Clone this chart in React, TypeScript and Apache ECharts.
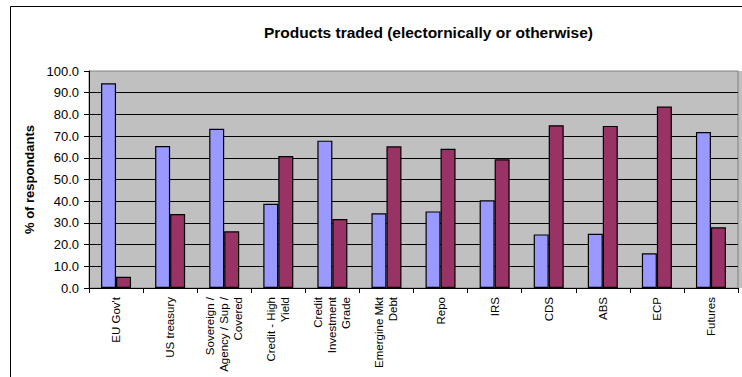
import React, { useEffect, useRef } from "react";
import * as echarts from "echarts";

const categories = [
  "EU Gov't",
  "US treasury",
  "Sovereign /\nAgency / Sup /\nCovered",
  "Credit - High\nYield",
  "Credit\nInvestment\nGrade",
  "Emergine Mkt\nDebt",
  "Repo",
  "IRS",
  "CDS",
  "ABS",
  "ECP",
  "Futures",
];
const seriesBlue = [94.3, 65.4, 73.4, 38.8, 67.9, 34.4, 35.3, 40.4, 24.7, 25.0, 16.0, 71.9];
const seriesMaroon = [5.2, 34.1, 26.1, 60.8, 31.8, 65.3, 64.2, 59.3, 75.0, 74.7, 83.6, 28.0];

export default function App() {
  const ref = useRef<HTMLDivElement>(null);
  useEffect(() => {
    document.body.style.margin = "0";
    const chart = echarts.init(ref.current!, undefined, { renderer: "svg" });
    const font = "'Liberation Sans', Arial, sans-serif";
    chart.setOption({
      animation: false,
      backgroundColor: "#ffffff",
      textStyle: { fontFamily: font },
      title: {
        text: "Products traded (electornically or otherwise)",
        left: 259,
        top: 19,
        textStyle: { fontSize: 15.5, fontWeight: "bold", color: "#000", fontFamily: font },
      },
      graphic: [
        {
          type: "rect",
          shape: { x: 10.5, y: 6.5, width: 800, height: 400 },
          style: { fill: "none", stroke: "#000", lineWidth: 1 },
          z: 100,
        },
        {
          type: "rect",
          shape: { x: 738, y: 71, width: 10, height: 217 },
          style: { fill: "#C0C0C0", stroke: "none" },
          z: -1,
        },
      ],
      grid: {
        left: 89,
        top: 71,
        right: 4,
        bottom: 89,
        show: true,
        backgroundColor: "#C0C0C0",
        borderColor: "#808080",
        borderWidth: 1,
      },
      xAxis: {
        type: "category",
        data: categories,
        axisLine: { show: true, lineStyle: { color: "#000", width: 1 } },
        axisTick: { show: true, alignWithLabel: false, length: 5, lineStyle: { color: "#000" } },
        axisLabel: {
          interval: 0,
          rotate: 90,
          fontSize: 11.5,
          lineHeight: 14,
          margin: 9,
          color: "#000",
          fontFamily: font,
        },
      },
      yAxis: {
        type: "value",
        min: 0,
        max: 100,
        interval: 10,
        name: "% of respondants",
        nameLocation: "middle",
        nameGap: 50,
        nameTextStyle: { fontSize: 13, fontWeight: "bold", color: "#000", fontFamily: font },
        axisLine: { show: true, lineStyle: { color: "#000", width: 1 } },
        axisTick: { show: true, length: 5, lineStyle: { color: "#000" } },
        axisLabel: {
          fontSize: 13,
          margin: 10,
          color: "#000",
          fontFamily: font,
          formatter: (v: number) => v.toFixed(1),
        },
        splitLine: {
          show: true,
          showMaxLine: false,
          lineStyle: { color: "#000000", width: 1 },
        },
      },
      series: [
        {
          name: "Series 1",
          type: "bar",
          data: seriesBlue,
          barWidth: 15,
          barGap: "0%",
          itemStyle: { color: "#9999FF", borderColor: "#000", borderWidth: 1.2 },
        },
        {
          name: "Series 2",
          type: "bar",
          data: seriesMaroon,
          barWidth: 15,
          barGap: "0%",
          itemStyle: { color: "#993366", borderColor: "#000", borderWidth: 1.2 },
        },
      ],
    });
    return () => chart.dispose();
  }, []);
  return <div ref={ref} style={{ width: 742, height: 377 }} />;
}
